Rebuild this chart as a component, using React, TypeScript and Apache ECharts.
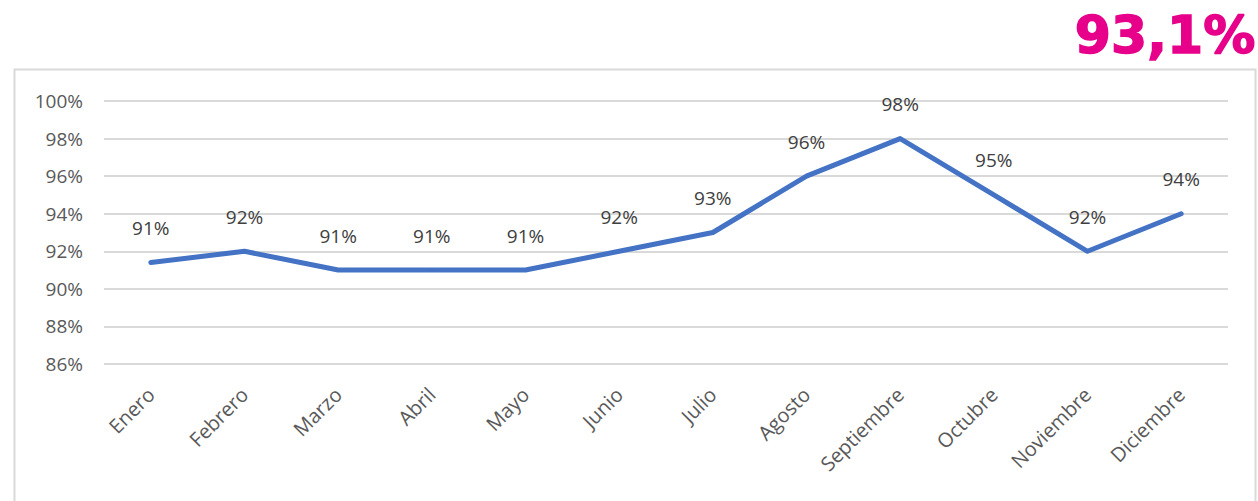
import React, { useEffect, useRef } from "react";
import * as echarts from "echarts";

const months = ["Enero", "Febrero", "Marzo", "Abril", "Mayo", "Junio", "Julio", "Agosto", "Septiembre", "Octubre", "Noviembre", "Diciembre"];
const values = [91.4, 92, 91, 91, 91, 92, 93, 96, 98, 95, 92, 94];
const yTicks = { min: 86, max: 100, interval: 2 };
const headline = "93,1%";

const FONT = "'Open Sans', 'Liberation Sans', Arial, sans-serif";

export default function App() {
  const ref = useRef<HTMLDivElement>(null);
  useEffect(() => {
    const chart = echarts.init(ref.current!, null, { renderer: "svg" });
    chart.setOption({
      animation: false,
      graphic: [
        {
          type: "rect",
          shape: { x: 14.5, y: 69.5, width: 1241, height: 440 },
          style: { fill: "none", stroke: "#d9d9d9", lineWidth: 2 },
          silent: true,
        },
        {
          type: "text",
          right: 2,
          top: 8,
          style: {
            text: headline,
            fill: "#e6008a",
            stroke: "#e6008a",
            lineWidth: 1.5,
            font: "bold 52px 'DejaVu Sans', 'Liberation Sans', Arial, sans-serif",
          },
        },
      ],
      grid: { left: 104, right: 30, top: 101, bottom: 137 },
      xAxis: {
        type: "category",
        data: months,
        boundaryGap: true,
        axisLine: { show: false },
        axisTick: { show: false },
        axisLabel: {
          rotate: 45,
          color: "#595959",
          fontSize: 20,
          fontFamily: FONT,
          margin: 27,
          interval: 0,
        },
      },
      yAxis: {
        type: "value",
        min: yTicks.min,
        max: yTicks.max,
        interval: yTicks.interval,
        axisLine: { show: false },
        axisTick: { show: false },
        splitLine: { lineStyle: { color: "#d9d9d9", width: 2 } },
        axisLabel: {
          formatter: (v: number) => `${v}%`,
          color: "#595959",
          fontSize: 19,
          fontFamily: FONT,
          margin: 21,
        },
      },
      series: [
        {
          type: "line",
          data: values,
          symbol: "circle",
          symbolSize: 2,
          showSymbol: true,
          itemStyle: { color: "#4472c4" },
          lineStyle: { color: "#4472c4", width: 5, cap: "round", join: "round" },
          label: {
            show: true,
            position: "top",
            distance: 24,
            formatter: (p: any) => `${Math.round(p.value)}%`,
            color: "#404040",
            fontSize: 19,
            fontFamily: FONT,
          },
          labelLayout: { hideOverlap: false },
        },
      ],
    });
    return () => chart.dispose();
  }, []);
  return <div ref={ref} style={{ position: "absolute", left: 0, top: 0, width: 1258, height: 501 }} />;
}
